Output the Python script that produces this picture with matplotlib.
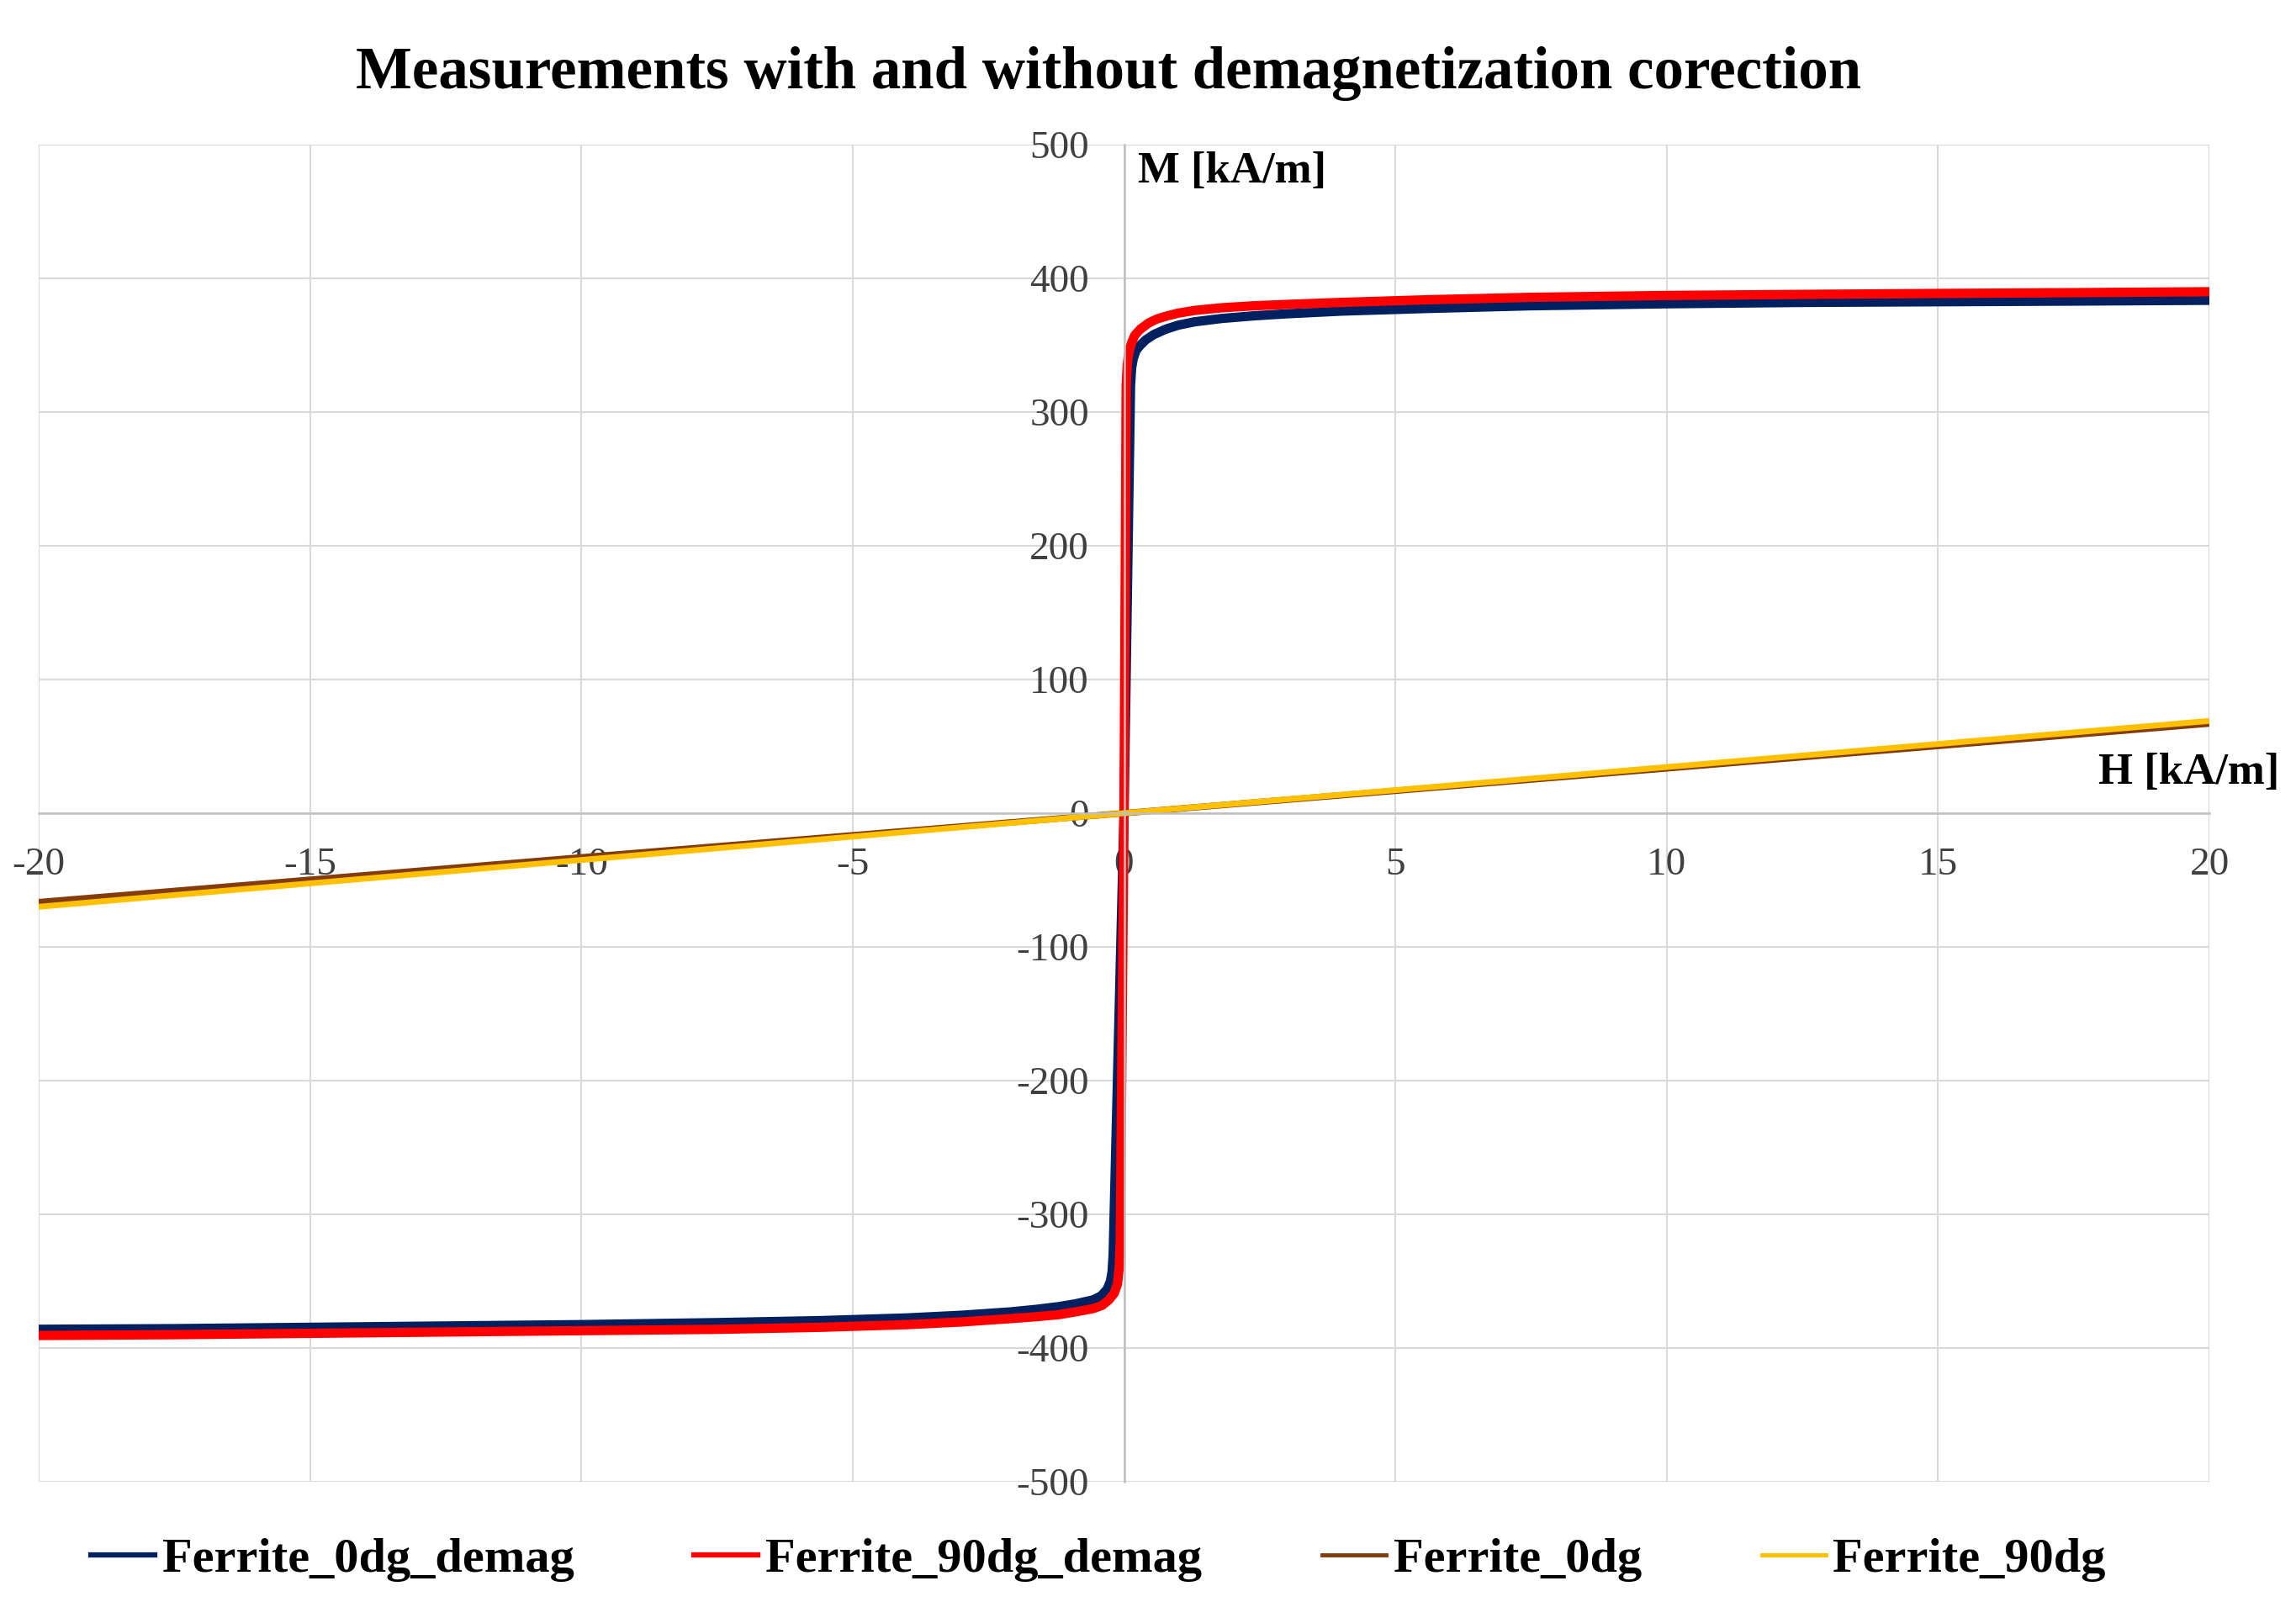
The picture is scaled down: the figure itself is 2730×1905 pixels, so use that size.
import matplotlib
matplotlib.use("Agg")
import matplotlib.pyplot as plt
from matplotlib.lines import Line2D

# values: H [kA/m] -> M [kA/m]
h_0dg_demag = [-20, -17.5, -15, -12.5, -10, -7.5, -5.6, -4, -3, -2.1, -1.6, -1.2, -0.9,
               -0.57, -0.42, -0.31, -0.25, -0.22, -0.2, 0.0,
               0.12, 0.14, 0.17, 0.22, 0.3, 0.4, 0.55, 0.77, 1.0, 1.3, 1.8, 2.4, 3.0,
               4.0, 5.6, 7.5, 10, 12.5, 15, 17.5, 20]
m_0dg_demag = [-386, -385.5, -384.5, -383.5, -382.5, -381, -379.5, -377.5, -375.5, -373,
               -371, -369, -367, -364, -361, -356, -350, -343, -330, 0,
               320, 333, 340, 346, 350, 354, 358, 362, 365, 367.5, 370, 372, 373.5,
               375.5, 377.5, 379.5, 381, 382, 382.5, 383, 383.6]

h_90dg_demag = [-20, -17.5, -15, -12.5, -10, -7.5, -5.6, -4, -3, -2.1, -1.6, -1.2, -0.9,
                -0.57, -0.4, -0.28, -0.18, -0.12, -0.09, -0.07, 0.0,
                0.04, 0.06, 0.08, 0.11, 0.15, 0.2, 0.3, 0.45, 0.6, 0.8, 1.0, 1.3, 1.8,
                2.4, 3.0, 4.0, 5.6, 7.5, 10, 12.5, 15, 17.5, 20]
m_90dg_demag = [-390.6, -390, -389, -388, -387, -386, -384.5, -382.5, -380.5, -378,
                -376.5, -375, -373, -370.5, -368, -364, -359, -352, -340, -320, 0,
                320, 335, 342, 348, 353, 357.5, 362, 366.5, 369.5, 372, 374, 376, 378,
                379.5, 380.5, 382, 384, 385.8, 387.2, 388, 388.7, 389.3, 390]

h_plain = [-20, -10, 0, 10, 20]
m_0dg = [-66.5, -33, 0, 33.5, 67]
m_90dg = [-70, -35, 0, 34.5, 69]

labels = ["Ferrite_0dg_demag", "Ferrite_90dg_demag", "Ferrite_0dg", "Ferrite_90dg"]
colors = ["#002060", "#ff0000", "#843c0c", "#ffc000"]

FONT = "Liberation Serif"
W, H = 2730, 1905
plt.rcParams["axes.unicode_minus"] = False

fig = plt.figure(figsize=(W / 100, H / 100), dpi=100)
ax = fig.add_axes([46 / W, 1 - 1762 / H, (2627 - 46) / W, (1762 - 172) / H])

ax.plot(h_0dg_demag, m_0dg_demag, color=colors[0], lw=8, solid_joinstyle="round", zorder=2)
ax.plot(h_90dg_demag, m_90dg_demag, color=colors[1], lw=8, solid_joinstyle="round", zorder=2)
ax.plot(h_plain, m_0dg, color=colors[2], lw=5.5, solid_capstyle="butt", zorder=2)
ax.plot(h_plain, m_90dg, color=colors[3], lw=5, solid_capstyle="butt", zorder=2)

ax.set_xlim(-20, 20)
ax.set_ylim(-500, 500)
ax.set_xticks(range(-20, 21, 5))
ax.set_yticks(range(-500, 501, 100))
ax.set_axisbelow(True)
ax.grid(True, color="#d9d9d9", lw=1.5)

for s in ["top", "right"]:
    ax.spines[s].set_visible(False)
ax.spines["left"].set_position("zero")
ax.spines["bottom"].set_position("zero")
for s in ["left", "bottom"]:
    ax.spines[s].set_color("#bfbfbf")
    ax.spines[s].set_linewidth(1.8)

ax.tick_params(axis="both", length=0, labelsize=34, labelcolor="#404040")
ax.tick_params(axis="x", pad=29)
ax.tick_params(axis="y", pad=30)
for t in ax.get_xticklabels() + ax.get_yticklabels():
    t.set_fontfamily(FONT)

ax.text(0.26, 480, "M [kA/m]", fontsize=38, fontweight="bold", family=FONT,
        ha="left", va="center")
ax.text(21.29, 30, "H [kA/m]", fontsize=38, fontweight="bold", family=FONT,
        ha="right", va="center", clip_on=False)

fig.text(1318 / W, 1 - 87 / H, "Measurements with and without demagnetization corection",
         fontsize=51, fontweight="bold", family=FONT, ha="center", va="center")

handles = [Line2D([], [], color=colors[0], lw=4.5),
           Line2D([], [], color=colors[1], lw=4.5),
           Line2D([], [], color=colors[2], lw=3.5),
           Line2D([], [], color=colors[3], lw=3.5)]
fig.legend(handles, labels, loc="center", bbox_to_anchor=(1306 / W, 1 - 1855 / H),
           ncol=4, frameon=False, handlelength=1.3, handletextpad=0.15,
           columnspacing=2.45, prop={"family": FONT, "weight": "bold", "size": 42})

fig.savefig("out.png", dpi=100)
